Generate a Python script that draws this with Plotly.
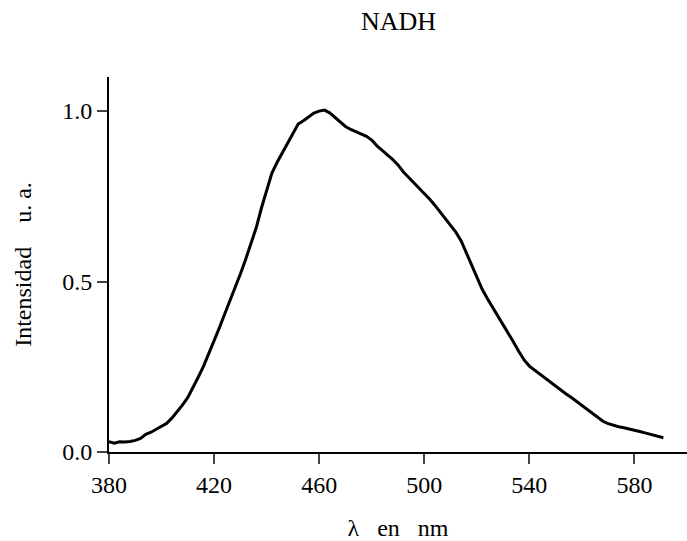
import plotly.graph_objects as go

wavelength_nm = [380,382,384,386,388,390,392,394,396,398,400,402,404,406,408,410,412,414,416,418,
                 420,422,424,426,428,430,432,434,436,438,440,442,444,446,448,450,452,454,456,458,
                 460,462,464,466,468,470,472,474,476,478,480,482,484,486,488,490,492,494,496,498,
                 500,502,504,506,508,510,512,514,516,518,520,522,524,526,528,530,532,534,536,538,
                 540,542,544,546,548,550,552,554,556,558,560,562,564,566,568,570,572,574,576,578,
                 580,582,584,586,588,590,591]
intensity = [0.030,0.026,0.030,0.029,0.031,0.034,0.040,0.052,0.058,0.066,0.074,0.084,0.100,0.118,0.138,0.160,0.188,0.220,0.252,0.288,
             0.326,0.364,0.404,0.442,0.482,0.522,0.565,0.608,0.657,0.715,0.770,0.818,0.850,0.878,0.902,0.930,0.962,0.972,0.982,0.994,
             1.000,1.003,0.995,0.982,0.968,0.955,0.946,0.940,0.934,0.926,0.915,0.898,0.885,0.872,0.858,0.842,0.822,0.806,0.790,0.776,
             0.760,0.742,0.724,0.705,0.686,0.666,0.645,0.620,0.585,0.548,0.510,0.478,0.450,0.425,0.400,0.375,0.350,0.322,0.295,0.270,
             0.252,0.240,0.228,0.218,0.206,0.194,0.182,0.170,0.160,0.148,0.136,0.124,0.112,0.100,0.090,0.083,0.078,0.074,0.071,0.068,
             0.064,0.060,0.056,0.052,0.048,0.044,0.042]

x_ticks = [380, 420, 460, 500, 540, 580]
y_ticks = [0.0, 0.5, 1.0]
y_tick_labels = ["0.0", "0.5", "1.0"]

font_family = "Liberation Serif"

fig = go.Figure()
fig.add_trace(go.Scatter(x=wavelength_nm, y=intensity, mode="lines",
                         line=dict(color="black", width=3), showlegend=False))

fig.update_layout(
    width=687, height=541,
    margin=dict(l=109, r=0, t=77, b=89),
    paper_bgcolor="white", plot_bgcolor="white",
    font=dict(family=font_family, color="black", size=24),
    title=dict(text="NADH", x=398.5/687, xanchor="center", y=1-21/541, yanchor="middle",
               font=dict(family=font_family, size=26, color="black")),
)
fig.update_xaxes(range=[380, 600], tickvals=x_ticks, ticks="outside", ticklen=10, tickwidth=2,
                 showline=True, linecolor="black", linewidth=2, showgrid=False, zeroline=False,
                 tickfont=dict(size=24),
                 title=dict(text="λ&nbsp;&nbsp; en&nbsp;&nbsp; nm", font=dict(size=24), standoff=26))
fig.update_yaxes(range=[0, 1.10], tickvals=y_ticks, ticktext=y_tick_labels, ticks="outside",
                 ticklen=10, tickwidth=2, showline=True, linecolor="black", linewidth=2,
                 showgrid=False, zeroline=False, tickfont=dict(size=24),
                 title=dict(text="Intensidad&nbsp;&nbsp;&nbsp; u. a.", font=dict(size=24), standoff=24))

fig.write_html("out.html")
